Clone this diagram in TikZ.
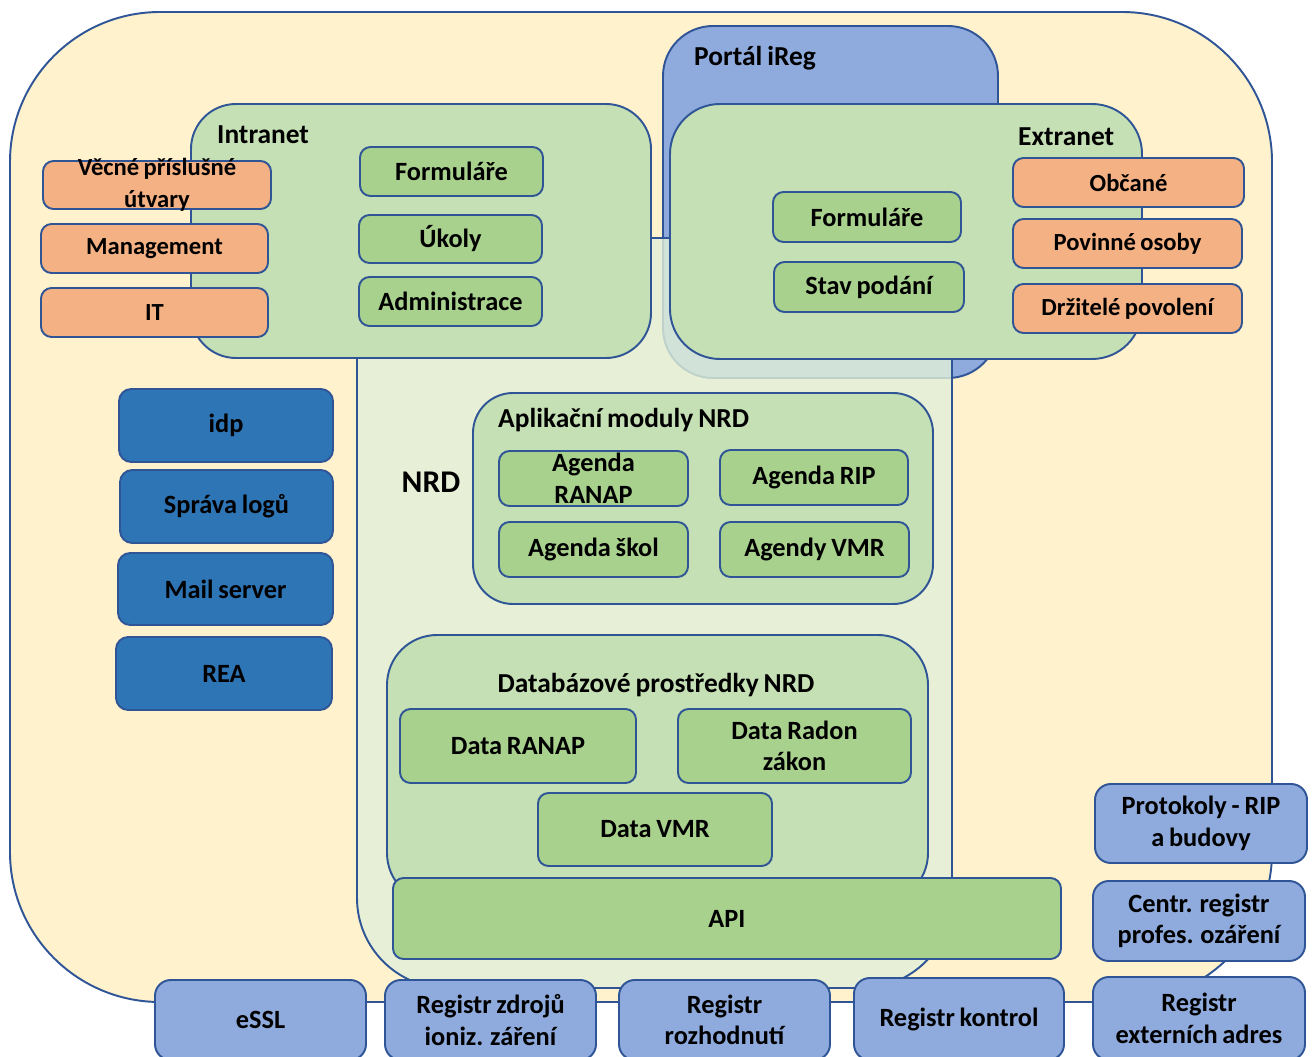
\documentclass[tikz,border=0pt]{standalone}
\usepackage{fontspec}
\setmainfont{Carlito}[WordSpace=0.8]
\usetikzlibrary{fit}

\definecolor{rimblue}{HTML}{2F5597}
\definecolor{sandfill}{HTML}{FFF2CC}
\definecolor{portalblue}{HTML}{8FAADC}
\definecolor{nrdgreen}{HTML}{E2F0D9}
\definecolor{zonegreen}{HTML}{C5E0B4}
\definecolor{modgreen}{HTML}{A9D18E}
\definecolor{peach}{HTML}{F4B183}
\definecolor{deepblue}{HTML}{2E75B6}

\begin{document}
\begin{tikzpicture}[x=0.02cm, y=-0.02cm,
  every text node part/.style={align=center},
  every node/.style={font=\fontsize{15}{18}\selectfont\bfseries},
  title/.style={font=\fontsize{15.6}{18}\selectfont\bfseries},
  peachtxt/.style={font=\fontsize{14}{18}\selectfont\bfseries},
  edged/.style={draw=rimblue, line width=1.1pt, inner sep=0pt},
  zone/.style={edged, fill=zonegreen},
  modbox/.style={edged, fill=modgreen, rounded corners=6pt},
  peachbox/.style={edged, fill=peach, rounded corners=6pt},
  darkbox/.style={edged, fill=deepblue, rounded corners=7pt},
  regbox/.style={edged, fill=portalblue, rounded corners=9pt}]
  \useasboundingbox (0,0) rectangle (1312,1057);
  \clip (0,0) rectangle (1312,1057);

  % background zones
  \node (world) [edged, fill=sandfill, rounded corners=3cm, fit={(10,12) (1272,1002)}] {};
  \node (portal) [edged, fill=portalblue, rounded corners=1cm, fit={(663,26) (998,378)}] {};
  \node (portaltxt) [title, anchor=west] at (688,58) {Portál iReg};
  \node (nrd) [edged, fill=nrdgreen, fill opacity=0.8, rounded corners=1.8cm, fit={(357,238) (952,988)}] {};
  \node (nrdtxt) [font=\fontsize{18}{20}\selectfont\bfseries] at (431,482) {NRD};
  \node (intranet) [zone, rounded corners=0.9cm, fit={(191,104) (651,358)}] {};
  \node (intranettxt) [title, anchor=west] at (211,135) {Intranet};
  \node (extranet) [zone, rounded corners=1cm, fit={(670,104) (1142,359)}] {};
  \node (extranettxt) [title, anchor=west] at (1012,137) {Extranet};

  % intranet
  \node (vecne) [peachbox, fit={(43,161) (271,209)}, label={[peachtxt]center:{Věcné příslušné\\útvary}}] {};
  \node (mgmt) [peachbox, fit={(41,224) (268,273)}, label={[peachtxt]center:Management}] {};
  \node (it) [peachbox, fit={(41,288) (268,337)}, label={[peachtxt]center:IT}] {};
  \node (forminner) [modbox, fit={(360,147) (543,196)}, label=center:Formuláře] {};
  \node (ukoly) [modbox, fit={(359,215) (542,263)}, label=center:Úkoly] {};
  \node (admin) [modbox, fit={(359,277) (542,326)}, label=center:Administrace] {};

  % extranet
  \node (formouter) [modbox, fit={(773,192) (961,242)}, label=center:Formuláře] {};
  \node (stav) [modbox, fit={(774,262) (964,312)}, label=center:Stav podání] {};
  \node (obcane) [peachbox, fit={(1013,158) (1244,207)}, label={[peachtxt]center:Občané}] {};
  \node (povinne) [peachbox, fit={(1013,219) (1242,268)}, label={[peachtxt]center:Povinné osoby}] {};
  \node (drzitele) [peachbox, fit={(1013,284) (1242,333)}, label={[peachtxt]center:Držitelé povolení}] {};

  % services
  \node (idp) [darkbox, fit={(119,389) (333,462)}, label=center:idp] {};
  \node (logy) [darkbox, fit={(120,470) (333,543)}, label=center:Správa logů] {};
  \node (mail) [darkbox, fit={(118,553) (333,625)}, label=center:Mail server] {};
  \node (rea) [darkbox, fit={(116,637) (332,710)}, label=center:REA] {};

  % NRD modules
  \node (moduly) [zone, rounded corners=0.8cm, fit={(473,393) (933,604)}] {};
  \node (modulytxt) [title, anchor=west] at (492,420) {Aplikační moduly NRD};
  \node (ranap) [modbox, fit={(499,451) (688,506)}, label=center:{Agenda\\RANAP}] {};
  \node (rip) [modbox, fit={(720,450) (908,505)}, label=center:Agenda RIP] {};
  \node (skol) [modbox, fit={(499,522) (688,577)}, label=center:Agenda škol] {};
  \node (vmr) [modbox, fit={(720,522) (909,577)}, label=center:Agendy VMR] {};

  \node (db) [zone, rounded corners=1cm, fit={(387,635) (928,903)}] {};
  \node (dbtxt) [title] at (656,685) {Databázové prostředky NRD};
  \node (dataranap) [modbox, fit={(400,709) (636,783)}, label=center:Data RANAP] {};
  \node (dataradon) [modbox, fit={(678,709) (911,783)}, label=center:{Data Radon\\zákon}] {};
  \node (datavmr) [modbox, fit={(538,793) (772,866)}, label=center:Data VMR] {};
  \node (api) [modbox, fit={(393,878) (1061,959)}, label=center:API] {};

  % external registers
  \node (protokoly) [regbox, fit={(1095,784) (1307,863)}, label=center:{Protokoly - RIP\\a budovy}] {};
  \node (centr) [regbox, fit={(1093,881) (1305,961)}, label=center:{Centr. registr\\profes. ozáření}] {};
  \node (essl) [regbox, fit={(155,980) (366,1060)}, label=center:eSSL] {};
  \node (zdroje) [regbox, fit={(385,980) (596,1060)}, label=center:{Registr zdrojů\\ioniz. záření}] {};
  \node (rozhodnuti) [regbox, fit={(619,980) (830,1060)}, label=center:{Registr\\rozhodnutí}] {};
  \node (kontrol) [regbox, fit={(854,978) (1064,1060)}, label=center:Registr kontrol] {};
  \node (adresy) [regbox, fit={(1093,977) (1305,1060)}, label=center:{Registr\\externích adres}] {};
\end{tikzpicture}
\end{document}
